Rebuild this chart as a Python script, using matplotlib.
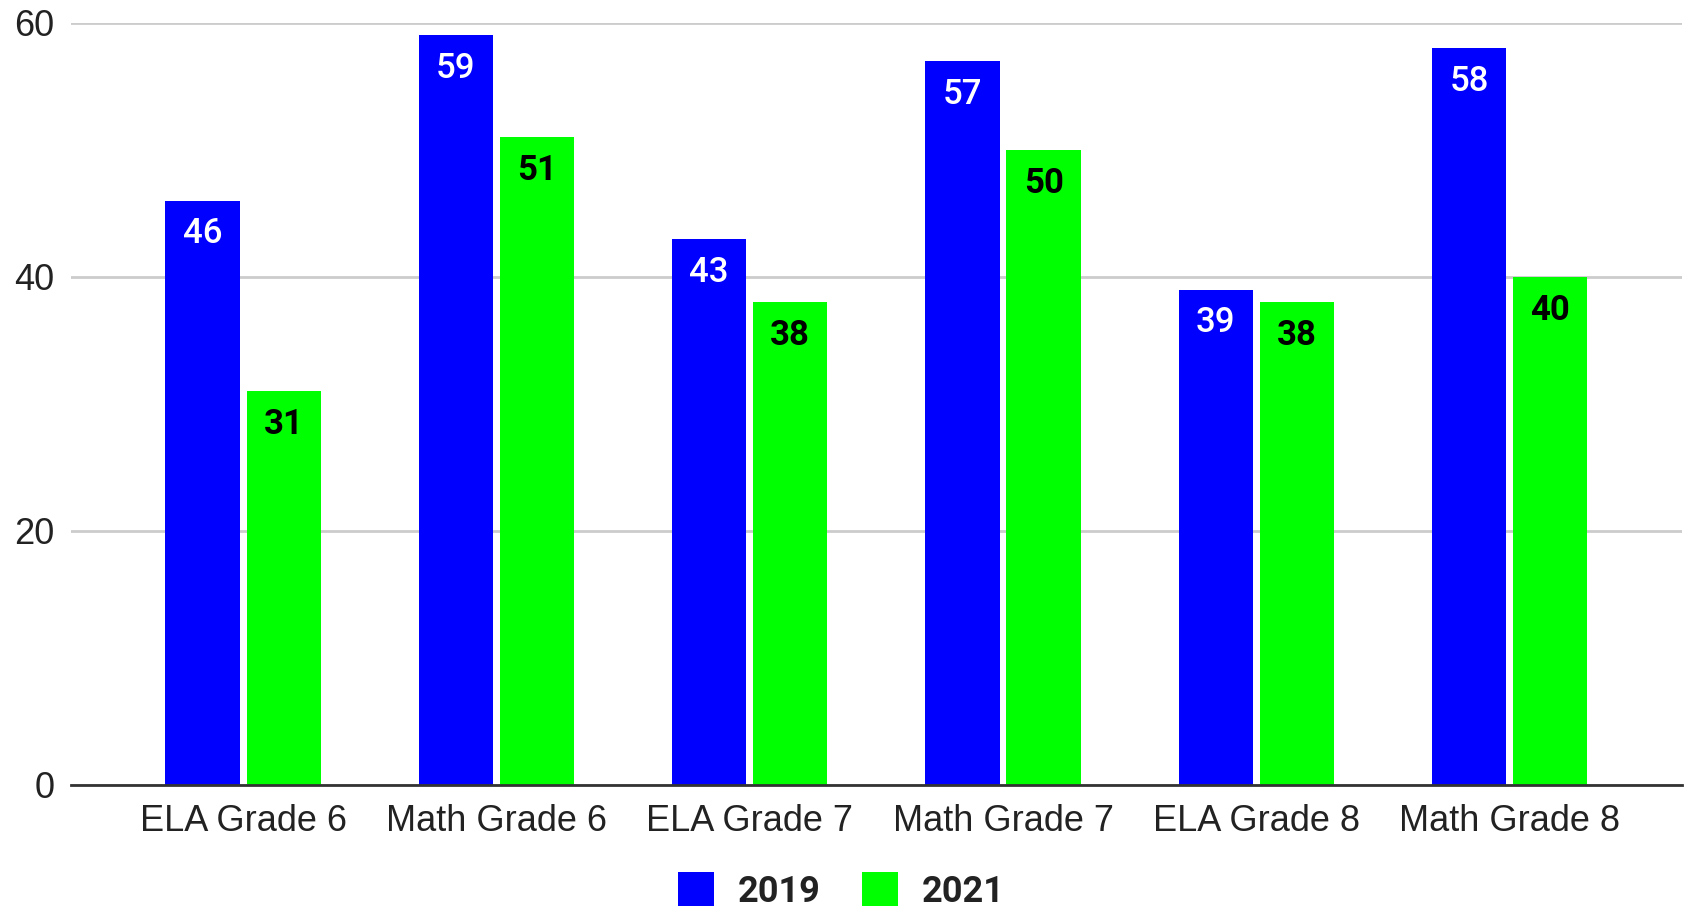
import matplotlib
matplotlib.use('Agg')
import matplotlib.pyplot as plt
from matplotlib.patches import Patch
import numpy as np

categorias = ['ELA Grade 6', 'Math Grade 6', 'ELA Grade 7',
              'Math Grade 7', 'ELA Grade 8', 'Math Grade 8']
series = ['2019', '2021']
valores_2019 = [46, 59, 43, 57, 39, 58]
valores_2021 = [31, 51, 38, 50, 38, 40]
yticks = [0, 20, 40, 60]

AZUL = '#0000ff'
VERDE = '#00ff00'

fig = plt.figure(figsize=(16.87, 9.10), dpi=100)
ax = fig.add_axes([0.042, 0.1374, 0.955, 0.8376])

x = np.arange(len(categorias))
ancho = 0.293
desp = 0.16

barras1 = ax.bar(x - desp, valores_2019, ancho, color=AZUL, zorder=3)
barras2 = ax.bar(x + desp, valores_2021, ancho, color=VERDE, zorder=3)

for barras, col_txt, peso in [(barras1, 'white', 'medium'), (barras2, 'black', 'bold')]:
    for b in barras:
        ax.annotate(str(int(b.get_height())),
                    (b.get_x() + b.get_width() / 2, b.get_height()),
                    xytext=(0, -24), textcoords='offset points',
                    ha='center', va='center', color=col_txt,
                    fontsize=25, fontweight=peso, family='Roboto', zorder=4)

ax.set_xlim(-0.68, 5.68)
ax.set_ylim(0, 60)
ax.set_yticks(yticks)
ax.set_xticks(x)
ax.set_xticklabels(categorias, family='Liberation Sans', fontsize=26, color='#222222')
ax.set_yticklabels([str(t) for t in yticks], family='Liberation Sans',
                   fontsize=26, color='#222222')
ax.tick_params(axis='both', length=0)
ax.tick_params(axis='x', pad=14)
ax.tick_params(axis='y', pad=12)

ax.grid(axis='y', color='#cccccc', linewidth=2, zorder=0)
for s in ['top', 'right', 'left']:
    ax.spines[s].set_visible(False)
ax.spines['bottom'].set_color('#333333')
ax.spines['bottom'].set_linewidth(2)
ax.spines['bottom'].set_zorder(5)

handles = [Patch(facecolor=AZUL, edgecolor='none'),
           Patch(facecolor=VERDE, edgecolor='none')]
leg = fig.legend(handles, series, loc='center', bbox_to_anchor=(0.4985, 1 - 891 / 910),
                 ncol=2, frameon=False, handlelength=1.0, handleheight=1.05,
                 handletextpad=0.65, columnspacing=1.15,
                 prop={'family': 'Roboto', 'weight': 'bold', 'size': 26})
for t in leg.get_texts():
    t.set_color('#222222')

fig.savefig('out.png', dpi=100)
